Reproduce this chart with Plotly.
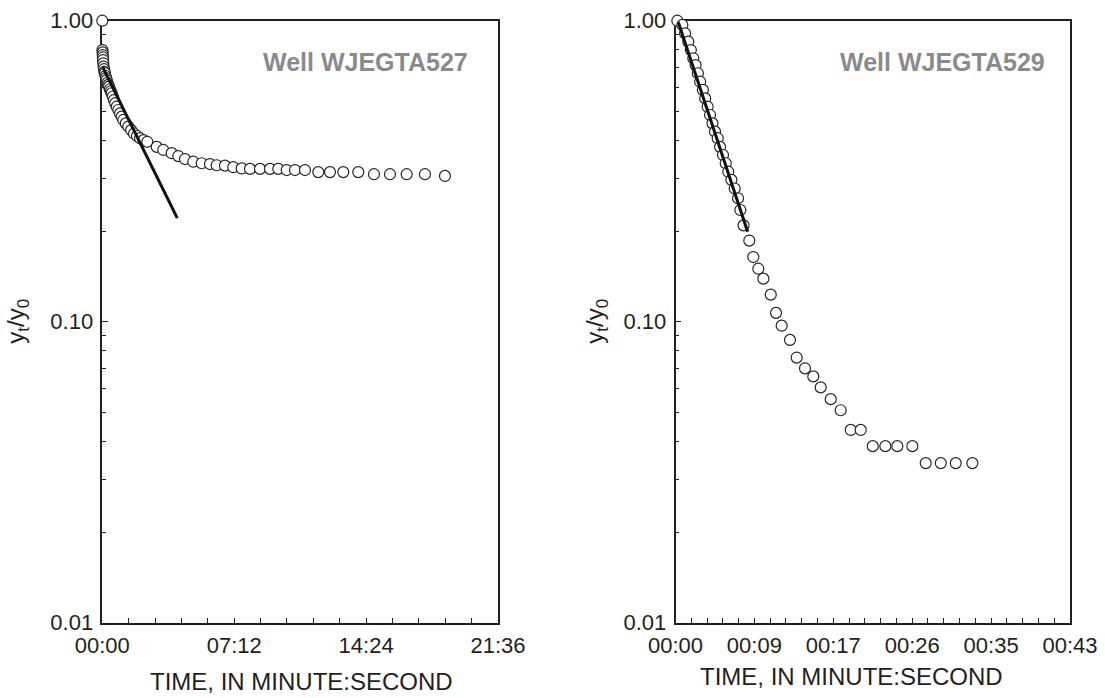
import plotly.graph_objects as go

# ---- Well WJEGTA527: elapsed time (seconds) and normalized head y_t/y_0 ----
t_527 = [0, 0.5, 1, 1.5, 2, 2.5, 3.3, 4.2, 5.5, 7, 8.8, 10.5, 12.5, 14.4, 17, 19.5,
         21.9, 25, 28, 30.8, 34.5, 38.3, 42.5, 47.2, 52.5, 58, 63.5, 68.8, 77, 85.2,
         94.5, 103.8, 113.5, 123.5, 135, 147.4, 178.2, 199.8, 227.3, 248.9, 270.8,
         298, 325.5, 352.7, 374.7, 401.8, 429, 456.5, 483.7, 516.5, 549.2, 576.4,
         603.9, 631.1, 663.8, 707.4, 745.7, 789.3, 838.4, 889.8, 942.2, 996.9,
         1056.8, 1122.3]
y_527 = [1.000, 0.799, 0.785, 0.769, 0.755, 0.740, 0.722, 0.704, 0.690, 0.676, 0.669,
         0.655, 0.645, 0.635, 0.622, 0.612, 0.604, 0.592, 0.583, 0.574, 0.560, 0.545,
         0.532, 0.518, 0.505, 0.492, 0.480, 0.468, 0.456, 0.445, 0.433, 0.422, 0.414,
         0.407, 0.401, 0.396, 0.381, 0.372, 0.363, 0.355, 0.347, 0.340, 0.336, 0.334,
         0.331, 0.330, 0.326, 0.323, 0.322, 0.322, 0.322, 0.322, 0.319, 0.319, 0.319,
         0.314, 0.314, 0.314, 0.314, 0.309, 0.309, 0.309, 0.309, 0.305]
# straight-line fit through the early-time response
fit_t_527 = [0, 245.6]
fit_y_527 = [0.705, 0.221]

# ---- Well WJEGTA529 ----
t_529 = [0.2, 0.75, 1.05, 1.4, 1.68, 1.95, 2.2, 2.45, 2.7, 3.0, 3.25, 3.52, 3.78,
         4.05, 4.33, 4.62, 4.88, 5.2, 5.5, 5.78, 6.12, 6.48, 6.85, 7.1, 7.45, 8.08,
         8.52, 9.07, 9.62, 10.43, 11.01, 11.63, 12.54, 13.27, 14.18, 15.09, 15.90,
         17.00, 18.09, 19.19, 20.28, 21.60, 22.98, 24.29, 25.94, 27.40, 29.05, 30.69,
         32.51]
y_529 = [1.0, 0.968, 0.908, 0.852, 0.799, 0.750, 0.712, 0.669, 0.627, 0.589, 0.552,
         0.518, 0.486, 0.456, 0.428, 0.407, 0.381, 0.358, 0.336, 0.315, 0.296, 0.277,
         0.257, 0.235, 0.209, 0.186, 0.164, 0.150, 0.139, 0.123, 0.107, 0.097, 0.087,
         0.076, 0.070, 0.0658, 0.0605, 0.0553, 0.0508, 0.0437, 0.0437, 0.0386, 0.0386,
         0.0386, 0.0386, 0.0339, 0.0339, 0.0339, 0.0339]
fit_t_529 = [0.3, 7.9]
fit_y_529 = [0.99, 0.199]

# ---- axis ticks ----
x1_tickvals = [0, 432, 864, 1296]
x1_ticktext = ["00:00", "07:12", "14:24", "21:36"]
x2_tickvals = [0, 8.64, 17.28, 25.92, 34.56, 43.2]
x2_ticktext = ["00:00", "00:09", "00:17", "00:26", "00:35", "00:43"]
y_tickvals = [0.01, 0.1, 1.0]
y_ticktext = ["0.01", "0.10", "1.00"]
y_minor = [m * d for d in (0.01, 0.1) for m in range(2, 10)]

FONT = "Liberation Sans, Arial, Helvetica, sans-serif"
INK = "#231f20"

fig = go.Figure()

marker = dict(symbol="circle", size=11, color="white",
              line=dict(color="#262626", width=1.2))

fig.add_trace(go.Scatter(x=t_527, y=y_527, mode="markers", marker=marker,
                         cliponaxis=False, xaxis="x", yaxis="y", showlegend=False))
fig.add_trace(go.Scatter(x=fit_t_527, y=fit_y_527, mode="lines",
                         line=dict(color="#111111", width=3),
                         xaxis="x", yaxis="y", showlegend=False))
fig.add_trace(go.Scatter(x=t_529, y=y_529, mode="markers", marker=marker,
                         cliponaxis=False, xaxis="x2", yaxis="y2", showlegend=False))
fig.add_trace(go.Scatter(x=fit_t_529, y=fit_y_529, mode="lines",
                         line=dict(color="#111111", width=3),
                         xaxis="x2", yaxis="y2", showlegend=False))

W, H = 1105, 698
y_dom = [1 - 622.7 / H, 1 - 20.7 / H]

common_x = dict(showline=True, linecolor=INK, linewidth=1.5, mirror=True,
                ticks="inside", ticklen=5, tickwidth=1.2, tickcolor=INK,
                tickmode="array", showgrid=False, zeroline=False,
                automargin=False, ticklabelstandoff=2, layer="below traces",
                tickfont=dict(family=FONT, size=22, color=INK))
common_y = dict(type="log", range=[-2, 0], showline=True, linecolor=INK,
                linewidth=1.5, mirror=True, ticks="inside", ticklen=6,
                tickwidth=1.2, tickcolor=INK, tickmode="array",
                tickvals=y_tickvals, ticktext=y_ticktext, showgrid=False,
                zeroline=False, automargin=False, ticklabelstandoff=3,
                layer="below traces",
                tickfont=dict(family=FONT, size=22, color=INK),
                minor=dict(tickmode="array", tickvals=y_minor, ticks="inside",
                           ticklen=4, tickwidth=1.2, tickcolor=INK))

fig.update_layout(
    template="none",
    width=W, height=H,
    margin=dict(l=0, r=0, t=0, b=0, pad=0, autoexpand=False),
    paper_bgcolor="white", plot_bgcolor="white",
    xaxis=dict(common_x, domain=[102.3 / W, 498 / W], range=[0, 1296],
               tickvals=x1_tickvals, ticktext=x1_ticktext, anchor="y",
               minor=dict(tick0=0, dtick=86.4, ticks="inside", ticklen=5,
                          tickwidth=1.2, tickcolor=INK)),
    yaxis=dict(common_y, domain=y_dom, anchor="x"),
    xaxis2=dict(common_x, domain=[675.5 / W, 1070 / W], range=[0, 43.2],
                tickvals=x2_tickvals, ticktext=x2_ticktext, anchor="y2",
                minor=dict(tick0=0, dtick=1.728, ticks="inside", ticklen=5,
                           tickwidth=1.2, tickcolor=INK)),
    yaxis2=dict(common_y, domain=y_dom, anchor="x2"),
)

title_font = dict(family=FONT, size=24, color=INK)
well_font = dict(family=FONT, size=25, color="#8a8a8c", weight="bold")

annotations = [
    # well names
    dict(text="Well WJEGTA527", x=470 / W, y=1 - 61.7 / H, xanchor="right",
         yanchor="middle", font=well_font),
    dict(text="Well WJEGTA529", x=1046.7 / W, y=1 - 61.7 / H, xanchor="right",
         yanchor="middle", font=well_font),
    # x-axis titles
    dict(text="TIME, IN MINUTE:SECOND", x=301 / W, y=1 - 681 / H,
         xanchor="center", yanchor="middle", font=title_font),
    dict(text="TIME, IN MINUTE:SECOND", x=851 / W, y=1 - 676 / H,
         xanchor="center", yanchor="middle", font=title_font),
    # y-axis titles
    dict(text="y<sub>t</sub>/y<sub>0</sub>", x=18 / W, y=1 - 321.7 / H,
         xanchor="center", yanchor="middle", textangle=-90, font=title_font),
    dict(text="y<sub>t</sub>/y<sub>0</sub>", x=597 / W, y=1 - 321.7 / H,
         xanchor="center", yanchor="middle", textangle=-90, font=title_font),
]
for a in annotations:
    a.update(xref="paper", yref="paper", showarrow=False)
fig.update_layout(annotations=annotations)

fig.write_html("out.html")
